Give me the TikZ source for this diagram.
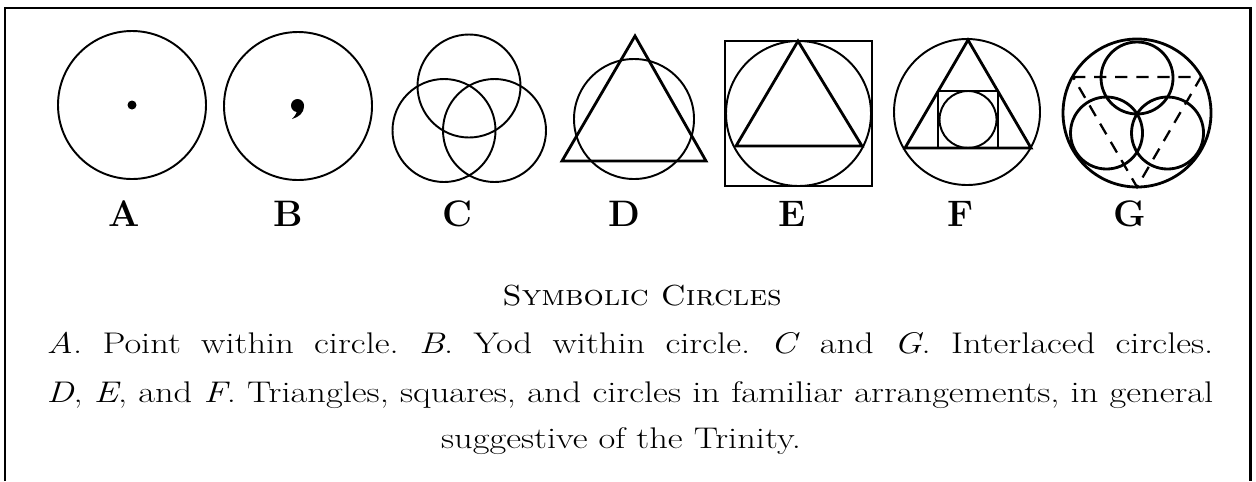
\documentclass[tikz,border=0pt]{standalone}
\usepackage{graphicx}
\usepackage{tikz}

% wider setting of the serif, as in the printed plate
\newcommand{\widetext}[1]{\scalebox{1.22}[1]{#1}}
\frenchspacing

\begin{document}
\begin{tikzpicture}[
    x=0.02cm, y=-0.02cm,
    ring/.style={draw=black, line width=1.1pt},
    heavy/.style={draw=black, line width=1.6pt, line join=miter},
    dashline/.style={draw=black, line width=1.3pt, dash pattern=on 7pt off 5pt},
    frame/.style={draw=black, line width=1.7pt},
    letter/.style={anchor=base, inner sep=0pt, font=\fontsize{21}{24}\selectfont\bfseries},
    title/.style={anchor=base, inner sep=0pt, font=\fontsize{16.5}{19}\selectfont\scshape},
    body/.style={anchor=base, inner sep=0pt, font=\fontsize{17}{20}\selectfont}
]

\useasboundingbox (0,0) rectangle (1256,481);

% FRAME
\draw[frame] (5,481) -- (5,8) -- (1250,8) -- (1250,481);

% A - point within circle
\coordinate (cA) at (132,105);
\draw[ring] (cA) circle (74);
\fill (cA) circle (4.5);

% B - yod within circle
\coordinate (cB) at (298,106);
\draw[ring] (cB) circle (74);
\fill (297.5,105.5) circle (6.5);
\fill (304,106) .. controls (304,113) and (299,117) .. (292,119) .. controls (296,115) and (297,112) .. (297,110) -- cycle;

% C - interlaced circles
\coordinate (cCt) at (469,86);
\coordinate (cCl) at (444,130.5);
\coordinate (cCr) at (494.5,130.5);
\draw[ring] (cCt) circle (51.5);
\draw[ring] (cCl) circle (51.5);
\draw[ring] (cCr) circle (51.5);

% D - triangle and circle
\coordinate (cD) at (634,119);
\draw[ring] (cD) circle (60);
\draw[heavy] (635,36) -- (562,161) -- (706,161) -- cycle;

% E - square, circle, triangle
\coordinate (cE) at (798.5,113.5);
\draw[ring] (725,41) rectangle (872,186);
\draw[ring] (cE) circle (72.5);
\draw[heavy] (798,41) -- (736,146) -- (862,146) -- cycle;

% F - circle, triangle, square, circle
\coordinate (cF) at (967,112);
\draw[ring] (cF) circle (73);
\draw[heavy] (968,40) -- (905,148) -- (1031,148) -- cycle;
\draw[heavy] (938,91) rectangle (998,148);
\draw[ring] (968,119.5) circle (28.5);

% G - interlaced circles in circle
\coordinate (cG) at (1137,113);
\draw[heavy] (cG) circle (74);
\draw[heavy] (1137,78) circle (36);
\draw[heavy] (1106.5,133) circle (36);
\draw[heavy] (1167.5,133) circle (36);
\draw[dashline] (1073,77) -- (1201,77) -- (1137,187) -- cycle;

% LETTERS
\node[letter] (labA) at (124,226) {A};
\node[letter] (labB) at (288,226) {B};
\node[letter] (labC) at (457,226) {C};
\node[letter] (labD) at (624,226) {D};
\node[letter] (labE) at (792,226) {E};
\node[letter] (labF) at (961,226) {F};
\node[letter] (labG) at (1130,226) {G};

% CAPTION
\node[title] (capTitle) at (642,305) {\scalebox{1.1}[1]{Symbolic Circles}};
\node[body] (capLine1) at (630,353) {\widetext{\makebox[19.13cm][s]{\textit{A}. Point within circle. \textit{B}. Yod within circle. \textit{C} and \textit{G}. Interlaced circles.}}};
\node[body] (capLine2) at (630,402) {\widetext{\makebox[19.13cm][s]{\textit{D}, \textit{E}, and \textit{F}. Triangles, squares, and circles in familiar arrangements, in general}}};
\node[body] (capLine3) at (621,448) {\widetext{suggestive of the Trinity.}};

\end{tikzpicture}
\end{document}
